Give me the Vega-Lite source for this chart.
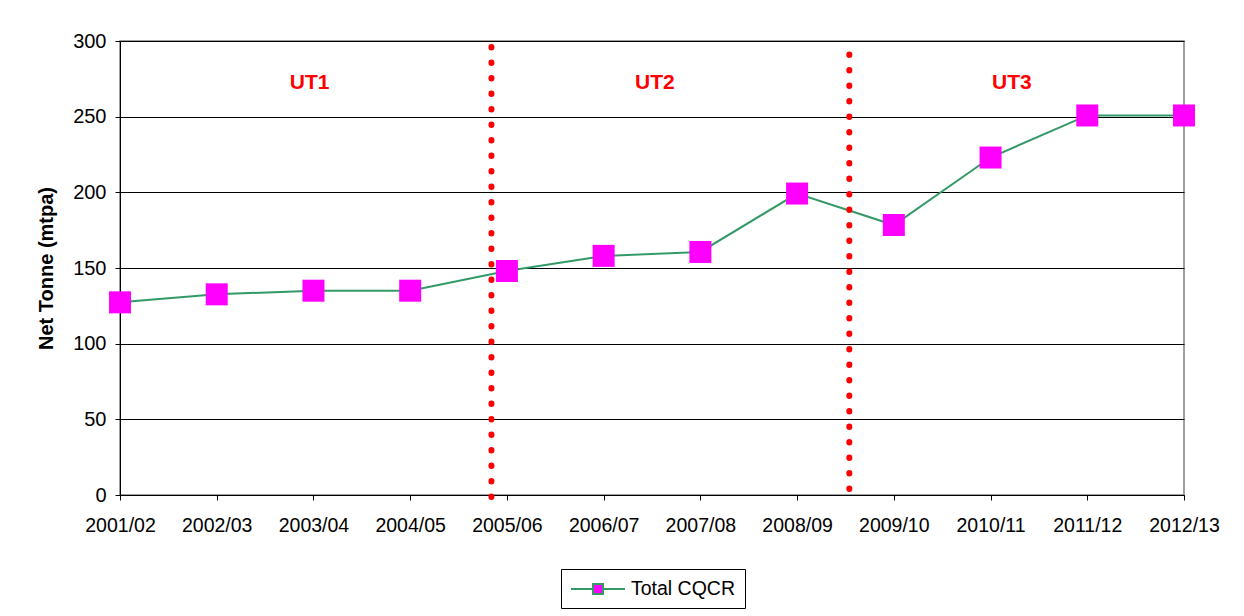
{
  "$schema": "https://vega.github.io/schema/vega-lite/v6.json",
  "width": 1064,
  "height": 454,
  "autosize": "none",
  "padding": {"left": 120, "top": 41, "right": 60, "bottom": 121},
  "background": "white",
  "config": {
    "font": "Liberation Sans",
    "view": {"stroke": "#808080", "strokeWidth": 1.5}
  },
  "datasets": {
    "main": [
      {"year": "2001/02", "i": 0, "value": 127.3, "series": "Total CQCR"},
      {"year": "2002/03", "i": 1, "value": 132.6, "series": "Total CQCR"},
      {"year": "2003/04", "i": 2, "value": 135.0, "series": "Total CQCR"},
      {"year": "2004/05", "i": 3, "value": 135.0, "series": "Total CQCR"},
      {"year": "2005/06", "i": 4, "value": 148.0, "series": "Total CQCR"},
      {"year": "2006/07", "i": 5, "value": 158.0, "series": "Total CQCR"},
      {"year": "2007/08", "i": 6, "value": 160.6, "series": "Total CQCR"},
      {"year": "2008/09", "i": 7, "value": 199.2, "series": "Total CQCR"},
      {"year": "2009/10", "i": 8, "value": 178.4, "series": "Total CQCR"},
      {"year": "2010/11", "i": 9, "value": 223.0, "series": "Total CQCR"},
      {"year": "2011/12", "i": 10, "value": 250.8, "series": "Total CQCR"},
      {"year": "2012/13", "i": 11, "value": 250.8, "series": "Total CQCR"}
    ],
    "dividers": [
      {"at": 3.84, "top": 296, "bottom": -1.5},
      {"at": 7.54, "top": 291, "bottom": -5}
    ],
    "periods": [
      {"label": "UT1", "at": 1.96, "value": 272.5},
      {"label": "UT2", "at": 5.53, "value": 272.5},
      {"label": "UT3", "at": 9.22, "value": 272.5}
    ]
  },
  "layer": [
    {
      "data": {"name": "main"},
      "mark": {"type": "line", "strokeWidth": 2},
      "encoding": {
        "x": {
          "field": "i",
          "type": "quantitative",
          "scale": {"domain": [0, 11], "nice": false, "zero": false},
          "axis": {
            "title": null,
            "values": [0, 1, 2, 3, 4, 5, 6, 7, 8, 9, 10, 11],
            "labelExpr": "['2001/02','2002/03','2003/04','2004/05','2005/06','2006/07','2007/08','2008/09','2009/10','2010/11','2011/12','2012/13'][datum.value]",
            "grid": false,
            "domainColor": "#000000",
            "tickColor": "#000000",
            "tickSize": 5,
            "labelFontSize": 19.5,
            "labelColor": "#000000",
            "labelPadding": 16,
            "labelFlush": false,
            "labelOverlap": false
          }
        },
        "y": {
          "field": "value",
          "type": "quantitative",
          "scale": {"domain": [0, 300], "nice": false},
          "axis": {
            "title": "Net Tonne (mtpa)",
            "titleFontSize": 20,
            "titleFontWeight": "bold",
            "titleColor": "#000000",
            "titlePadding": 16,
            "values": [0, 50, 100, 150, 200, 250, 300],
            "grid": true,
            "gridColor": "#000000",
            "domainColor": "#000000",
            "tickColor": "#000000",
            "tickSize": 5,
            "labelFontSize": 20,
            "labelColor": "#000000",
            "labelPadding": 9
          }
        },
        "color": {
          "field": "series",
          "type": "nominal",
          "scale": {"range": ["#339966"]},
          "legend": {
            "title": null,
            "orient": "none",
            "legendX": 441,
            "legendY": 528,
            "direction": "horizontal",
            "strokeColor": "#000000",
            "padding": 9,
            "symbolType": "M-1,0H1.2M2.2,0H4.4M1.2,-0.5H2.2V0.5H1.2Z",
            "symbolSize": 400,
            "symbolStrokeWidth": 2,
            "symbolFillColor": "#FF00FF",
            "labelFontSize": 19.5,
            "labelColor": "#000000",
            "labelOffset": 39
          }
        }
      }
    },
    {
      "data": {"name": "main"},
      "mark": {"type": "point", "shape": "square", "filled": true, "size": 484, "color": "#FF00FF", "opacity": 1},
      "encoding": {
        "x": {"field": "i", "type": "quantitative"},
        "y": {"field": "value", "type": "quantitative"}
      }
    },
    {
      "data": {"name": "dividers"},
      "mark": {"type": "rule", "color": "#FF0000", "strokeWidth": 6, "strokeDash": [0.5, 15], "strokeCap": "round"},
      "encoding": {
        "x": {"field": "at", "type": "quantitative"},
        "y": {"field": "top", "type": "quantitative"},
        "y2": {"field": "bottom"}
      }
    },
    {
      "data": {"name": "periods"},
      "mark": {"type": "text", "color": "#FF0000", "fontSize": 21, "fontWeight": "bold", "align": "center", "baseline": "middle"},
      "encoding": {
        "x": {"field": "at", "type": "quantitative"},
        "y": {"field": "value", "type": "quantitative"},
        "text": {"field": "label"}
      }
    }
  ]
}
